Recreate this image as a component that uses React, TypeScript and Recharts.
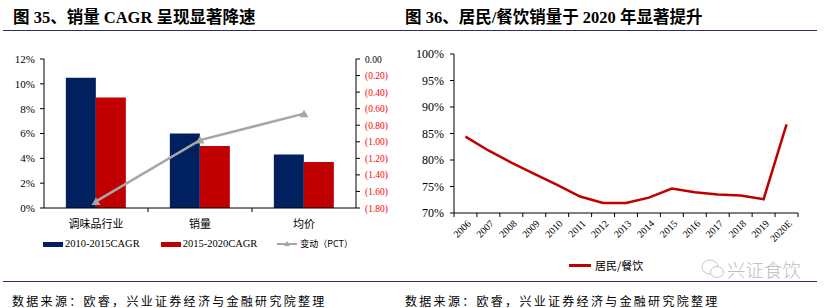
import React from 'react';
import {
  ComposedChart,
  LineChart,
  Bar,
  Line,
  XAxis,
  YAxis,
} from 'recharts';

// 图35 数据：三项指标的两段 CAGR 及变动
const categories = ['调味品行业', '销量', '均价'];
const cagr2010to2015 = [10.5, 6.0, 4.3];
const cagr2015to2020 = [8.9, 5.0, 3.7];
const pctChange = [-1.72, -0.98, -0.66];
const leftTicks = [0, 2, 4, 6, 8, 10, 12];
const rightTicks = [0, -0.2, -0.4, -0.6, -0.8, -1.0, -1.2, -1.4, -1.6, -1.8];

// 图36 数据：居民/餐饮销量比
const years = ['2006', '2007', '2008', '2009', '2010', '2011', '2012', '2013', '2014', '2015', '2016', '2017', '2018', '2019', '2020E'];
const householdRatio = [84.4, 81.8, 79.5, 77.4, 75.3, 73.1, 71.9, 71.9, 72.9, 74.6, 73.9, 73.5, 73.3, 72.6, 86.7];
const ratioTicks = [70, 75, 80, 85, 90, 95, 100];

const SERIF = '"Liberation Serif", "Times New Roman", "Noto Sans CJK SC", serif';
const CJK = '"Noto Sans CJK SC", "Liberation Serif", sans-serif';
const NAVY = '#002060';
const RED = '#C00000';
const GRAY = '#A6A6A6';
const RULE = '#2F2C62';

const barData = categories.map((name, i) => ({
  name,
  a: cagr2010to2015[i],
  b: cagr2015to2020[i],
  chg: pctChange[i],
}));

const lineData = years.map((year, i) => ({ year, v: householdRatio[i] }));

// 左图绘图区宽度，用于在类别之间画刻度
const LEFT_PLOT_W = 416 - 44 - 50 - 10;
const RIGHT_PLOT_W = 416 - 38 - 34;

const Triangle = (props: any) => {
  const { cx, cy } = props;
  if (cx == null || cy == null) return null;
  return <polygon points={`${cx},${cy - 4} ${cx - 4.5},${cy + 3.5} ${cx + 4.5},${cy + 3.5}`} fill={GRAY} />;
};

const CategoryTick = (props: any) => {
  const { x, y, payload, index } = props;
  const half = LEFT_PLOT_W / categories.length / 2;
  return (
    <g>
      {index > 0 && <line x1={x - half} y1={y} x2={x - half} y2={y + 4} stroke="#000" />}
      <text x={x} y={y + 20} textAnchor="middle" fontSize={11} fontFamily={CJK} fill="#000">
        {payload.value}
      </text>
    </g>
  );
};

const PctTick = (props: any) => {
  const { x, y, payload } = props;
  const v = payload.value;
  const label = v === 0 ? '0.00' : `(${Math.abs(v).toFixed(2)})`;
  return (
    <text x={x} y={y} dy={3.5} textAnchor="start" fontSize={9.5} fontFamily={SERIF} fill={v === 0 ? '#000' : '#FF0000'}>
      {label}
    </text>
  );
};

const YearTick = (props: any) => {
  const { x, y, payload, index } = props;
  const half = RIGHT_PLOT_W / years.length / 2;
  return (
    <g>
      <line x1={x - half} y1={y} x2={x - half} y2={y + 4} stroke="#000" />
      {index === years.length - 1 && <line x1={x + half} y1={y} x2={x + half} y2={y + 4} stroke="#000" />}
      <g transform={`translate(${x + 4},${y + 9})`}>
        <text transform="rotate(-45)" textAnchor="end" fontSize={10} fontFamily={SERIF} fill="#000" dy={3}>
          {payload.value}
        </text>
      </g>
    </g>
  );
};

const Swatch = ({ color }: { color: string }) => (
  <span style={{ display: 'inline-block', width: 20, height: 5, background: color, marginRight: 2 }} />
);

export default function App() {
  return (
    <div style={{ position: 'absolute', left: 0, top: 0, width: 832, height: 308, background: '#fff', overflow: 'hidden' }}>
      {/* 标题 */}
      <div style={{ position: 'absolute', left: 13, top: 8, fontFamily: SERIF, fontWeight: 'bold', fontSize: 16.5, lineHeight: '19px', whiteSpace: 'nowrap' }}>
        图 35、销量 CAGR 呈现显著降速
      </div>
      <div style={{ position: 'absolute', left: 405, top: 8, fontFamily: SERIF, fontWeight: 'bold', fontSize: 16.5, lineHeight: '19px', whiteSpace: 'nowrap' }}>
        图 36、居民/餐饮销量于 2020 年显著提升
      </div>
      <div style={{ position: 'absolute', left: 3, top: 30, width: 814, height: 1, background: RULE }} />

      {/* 图35 */}
      <div style={{ position: 'absolute', left: 0, top: 0 }}>
        <ComposedChart width={416} height={308} data={barData} margin={{ top: 59, right: 10, left: 0, bottom: 70 }} barCategoryGap="21%" barGap={0}>
          <XAxis dataKey="name" xAxisId={0} height={30} interval={0} tickLine={false} tickSize={0} tickMargin={0} axisLine={{ stroke: '#000' }} tick={<CategoryTick />} />
          <YAxis
            yAxisId="left"
            width={44}
            domain={[0, 12]}
            ticks={leftTicks}
            interval={0}
            tickFormatter={(v: number) => `${v}%`}
            tickSize={4}
            tickMargin={5}
            axisLine={{ stroke: '#000' }}
            tickLine={{ stroke: '#000' }}
            tick={{ fontSize: 11, fontFamily: SERIF, fill: '#000' }}
          />
          <YAxis
            yAxisId="right"
            orientation="right"
            width={50}
            domain={[-1.8, 0]}
            ticks={rightTicks}
            interval={0}
            tickSize={4}
            tickMargin={5}
            axisLine={{ stroke: '#000' }}
            tickLine={{ stroke: '#000' }}
            tick={<PctTick />}
          />
          <Bar yAxisId="left" dataKey="a" fill={NAVY} isAnimationActive={false} />
          <Bar yAxisId="left" dataKey="b" fill={RED} isAnimationActive={false} />
          <Line yAxisId="right" dataKey="chg" stroke={GRAY} strokeWidth={2.5} dot={<Triangle />} activeDot={false} isAnimationActive={false} />
        </ComposedChart>
      </div>

      {/* 图35 图例 */}
      <div style={{ position: 'absolute', left: 43, top: 236, display: 'flex', alignItems: 'center', fontFamily: SERIF, fontSize: 10.5, lineHeight: '16px', whiteSpace: 'nowrap' }}>
        <Swatch color={NAVY} />
        <span>2010-2015CAGR</span>
        <span style={{ width: 21 }} />
        <Swatch color={RED} />
        <span>2015-2020CAGR</span>
        <span style={{ width: 20 }} />
        <svg width={20} height={8} style={{ marginRight: 3 }}>
          <line x1={0} y1={4} x2={20} y2={4} stroke={GRAY} strokeWidth={2} />
          <polygon points="10,1 7,6 13,6" fill={GRAY} />
        </svg>
        <span style={{ fontFamily: CJK, fontSize: 9 }}>变动（PCT）</span>
      </div>

      {/* 图36 */}
      <div style={{ position: 'absolute', left: 416, top: 0 }}>
        <LineChart width={416} height={308} data={lineData} margin={{ top: 54, right: 34, left: 0, bottom: 65 }}>
          <XAxis dataKey="year" scale="band" height={30} interval={0} tickLine={false} tickSize={0} tickMargin={0} axisLine={{ stroke: '#000' }} tick={<YearTick />} />
          <YAxis
            width={38}
            domain={[70, 100]}
            ticks={ratioTicks}
            interval={0}
            tickFormatter={(v: number) => `${v}%`}
            tickSize={4}
            tickMargin={6}
            axisLine={{ stroke: '#000' }}
            tickLine={{ stroke: '#000' }}
            tick={{ fontSize: 12, fontFamily: SERIF, fill: '#000' }}
          />
          <Line dataKey="v" stroke={RED} strokeWidth={2.5} dot={false} activeDot={false} isAnimationActive={false} />
        </LineChart>
      </div>

      {/* 图36 图例 */}
      <div style={{ position: 'absolute', left: 569, top: 257, display: 'flex', alignItems: 'center', fontFamily: CJK, fontSize: 11, lineHeight: '16px', whiteSpace: 'nowrap' }}>
        <span style={{ display: 'inline-block', width: 22, height: 3, background: RED, marginRight: 4 }} />
        <span>居民/餐饮</span>
      </div>

      {/* 公众号水印 */}
      <div style={{ position: 'absolute', left: 700, top: 256, display: 'flex', alignItems: 'center', whiteSpace: 'nowrap' }}>
        <svg width={26} height={22}>
          <ellipse cx={10} cy={9} rx={8} ry={7} fill="none" stroke="#C8C8C8" strokeWidth={1} />
          <ellipse cx={17} cy={14} rx={6.5} ry={5.5} fill="#fff" stroke="#C8C8C8" strokeWidth={1} />
        </svg>
        <span style={{ fontFamily: CJK, fontWeight: 300, fontSize: 18.5, color: '#BDBDBD', marginLeft: 1 }}>兴证食饮</span>
      </div>

      {/* 数据来源 */}
      <div style={{ position: 'absolute', left: 3, top: 281, width: 814, height: 1, background: RULE }} />
      <div style={{ position: 'absolute', left: 12, top: 293, fontFamily: CJK, fontSize: 12, lineHeight: '16px', letterSpacing: 2.3, whiteSpace: 'nowrap' }}>
        数据来源：欧睿，兴业证券经济与金融研究院整理
      </div>
      <div style={{ position: 'absolute', left: 405, top: 293, fontFamily: CJK, fontSize: 12, lineHeight: '16px', letterSpacing: 2.3, whiteSpace: 'nowrap' }}>
        数据来源：欧睿，兴业证券经济与金融研究院整理
      </div>
    </div>
  );
}
